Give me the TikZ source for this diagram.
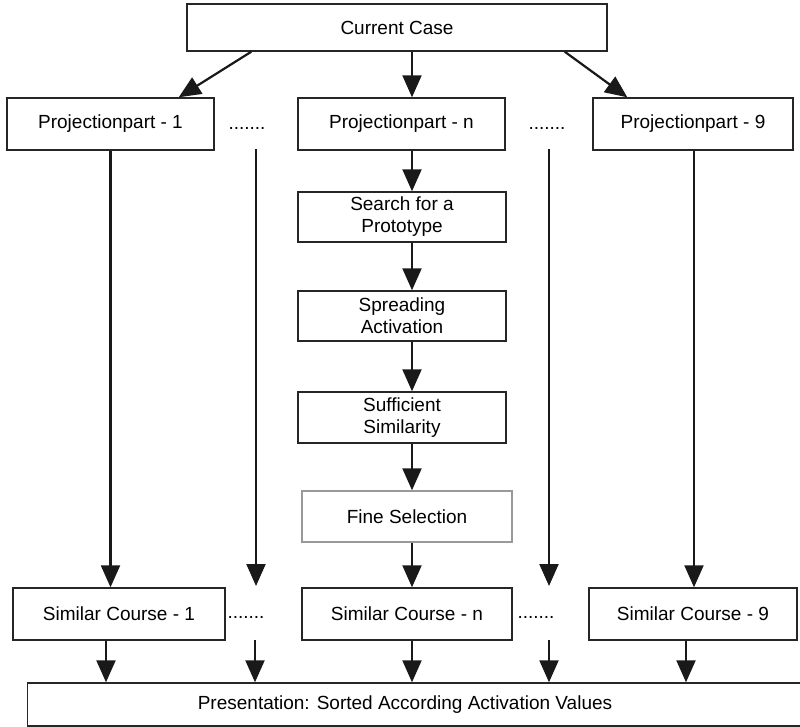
\documentclass[tikz,border=0pt]{standalone}
\usepackage{fontspec}
\setmainfont{Liberation Sans}
\usetikzlibrary{arrows.meta,calc}
\begin{document}
\begin{tikzpicture}[x=1pt,y=-1pt,
  box/.style={draw=black!85, line width=1.4pt, fill=white, align=center,
    inner sep=0pt, font=\fontsize{19}{22}\selectfont},
  softbox/.style={box, draw=black!40},
  dotsnode/.style={inner sep=0pt, font=\fontsize{19}{22}\selectfont},
  flow/.style={line width=2.2pt, black!90,
    -{Triangle[length=22pt,width=19pt]}}]
\useasboundingbox (0,0) rectangle (800,727);

% top case and the projection parts
\node[box, minimum width=420pt, minimum height=47pt] (cur) at (397,27.5) {Current Case};
\node[box, minimum width=207pt, minimum height=52pt] (p1) at (110.5,124) {Projectionpart - 1};
\node[box, minimum width=207pt, minimum height=52pt] (pn) at (401.5,124) {Projectionpart - n};
\node[box, minimum width=200pt, minimum height=52pt] (p9) at (693,124) {Projectionpart - 9};
\node[dotsnode] (dA) at (247,128) {.......};
\node[dotsnode] (dB) at (547,128) {.......};

% processing chain for part n
\node[box, minimum width=208pt, minimum height=50pt] (search) at (402,217) {Search for a\\Prototype};
\node[box, minimum width=208pt, minimum height=50pt] (spread) at (402,316) {Spreading\\Activation};
\node[box, minimum width=208pt, minimum height=51pt] (suff) at (402,417.5) {Sufficient\\Similarity};
\node[softbox, minimum width=210pt, minimum height=51pt] (fine) at (407,516.5) {Fine Selection};

% similar courses
\node[box, minimum width=212pt, minimum height=52pt] (s1) at (119,614) {Similar Course - 1};
\node[box, minimum width=210pt, minimum height=52pt] (sn) at (407,614) {Similar Course - n};
\node[box, minimum width=208pt, minimum height=52pt] (s9) at (693,614) {Similar Course - 9};
\node[dotsnode] (dC) at (246,617) {.......};
\node[dotsnode] (dD) at (536,617) {.......};

% final presentation
\node[box, minimum width=790pt, minimum height=43pt, anchor=west] (pres) at (27,704.5) {};
\node[dotsnode] (prestext) at (405,704.5) {Presentation: Sorted According Activation Values};

% x positions of the vertical connectors
\coordinate (xmid) at (412,0);
\coordinate (xp1) at (110.5,0);
\coordinate (xp9) at (694,0);
\coordinate (xs1) at (106,0);
\coordinate (xs9) at (686,0);
\coordinate (xc1) at (256,0);
\coordinate (xc2) at (549,0);

% free ends of the dotted columns
\coordinate (c1top) at (256,149);
\coordinate (c1bot) at (256,586);
\coordinate (c2top) at (549,149);
\coordinate (c2bot) at (549,586);
\coordinate (c1low) at (255,640);
\coordinate (c2low) at (549,640);

% fan-out from the current case
\draw[flow] ($(cur.south west)+(65,0)$) -- ($(p1.north east)+(-36,0)$);
\draw[flow] (xmid |- cur.south) -- (xmid |- pn.north);
\draw[flow] ($(cur.south east)+(-43,0)$) -- ($(p9.north west)+(35,0)$);

% columns down to the similar courses
\draw[flow] (xp1 |- p1.south) -- (xp1 |- s1.north);
\draw[flow] (c1top) -- (c1bot);
\draw[flow] (c2top) -- (c2bot);
\draw[flow] (xp9 |- p9.south) -- (xp9 |- s9.north);

% chain for part n
\draw[flow] (xmid |- pn.south) -- (xmid |- search.north);
\draw[flow] (xmid |- search.south) -- (xmid |- spread.north);
\draw[flow] (xmid |- spread.south) -- (xmid |- suff.north);
\draw[flow] (xmid |- suff.south) -- (xmid |- fine.north);
\draw[flow] (xmid |- fine.south) -- (xmid |- sn.north);

% into the presentation
\draw[flow] (xs1 |- s1.south) -- (xs1 |- pres.north);
\draw[flow] (c1low) -- (c1low |- pres.north);
\draw[flow] (xmid |- sn.south) -- (xmid |- pres.north);
\draw[flow] (c2low) -- (c2low |- pres.north);
\draw[flow] (xs9 |- s9.south) -- (xs9 |- pres.north);
\end{tikzpicture}
\end{document}
